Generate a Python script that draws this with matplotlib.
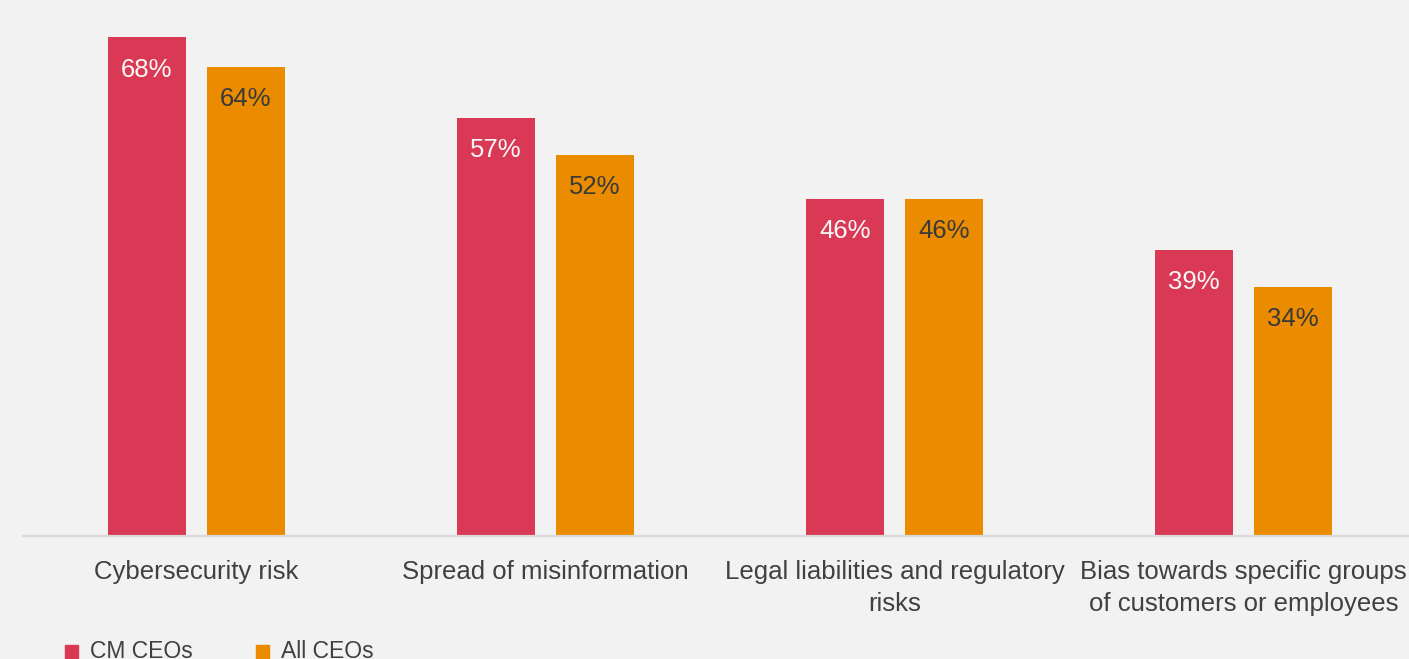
import matplotlib
matplotlib.use("Agg")
import matplotlib.pyplot as plt
import matplotlib.patches as mpatches
import numpy as np

BG = "#f2f2f2"
RED = "#d93954"
ORANGE = "#eb8c00"
TEXT = "#404040"

categories = ["Cybersecurity risk", "Spread of misinformation",
              "Legal liabilities and regulatory\nrisks",
              "Bias towards specific groups\nof customers or employees"]
series_names = ["CM CEOs", "All CEOs"]
cm_ceos = [68, 57, 46, 39]
all_ceos = [64, 52, 46, 34]

plt.rcParams["font.family"] = ["Liberation Sans", "DejaVu Sans"]

W, H = 1409, 659
fig = plt.figure(figsize=(W / 100, H / 100), dpi=100, facecolor=BG)
ax = fig.add_axes([23 / W, (H - 536) / H, 1 - 23 / W, 536 / H])
ax.set_facecolor(BG)

x = np.arange(len(categories))
bw = 78 / 349
off = 49.5 / 349
b1 = ax.bar(x - off, cm_ceos, width=bw, color=RED, edgecolor="none")
b2 = ax.bar(x + off, all_ceos, width=bw, color=ORANGE, edgecolor="none")

ax.set_xlim(-0.497, 3.474)
ax.set_ylim(0, 73.1)

for bars, vals, col in [(b1, cm_ceos, "#f7f7f7"), (b2, all_ceos, "#3a3a3a")]:
    for bar, v in zip(bars, vals):
        ax.text(bar.get_x() + bar.get_width() / 2, v - 4.4, f"{v}%",
                ha="center", va="center", color=col, fontsize=18.5)

ax.set_yticks([])
ax.set_xticks(x)
ax.set_xticklabels(categories, fontsize=18.5, color=TEXT, linespacing=1.4)
ax.tick_params(axis="x", length=0, pad=17.5)
for s in ["top", "right", "left"]:
    ax.spines[s].set_visible(False)
ax.spines["bottom"].set_color("#d9d9d9")
ax.spines["bottom"].set_linewidth(1.6)

# legend (cut off at the bottom edge, as in the source)
lx = [65, 256]
for px, name, col in zip(lx, series_names, [RED, ORANGE]):
    fig.patches.append(mpatches.Rectangle((px / W, -1 / H), 13 / W, 15 / H,
                                          transform=fig.transFigure, color=col))
    fig.text((px + 25) / W, 1 / H, name, fontsize=16.5, color=TEXT,
             ha="left", va="baseline")

fig.savefig("out.png", dpi=100, facecolor=BG)
